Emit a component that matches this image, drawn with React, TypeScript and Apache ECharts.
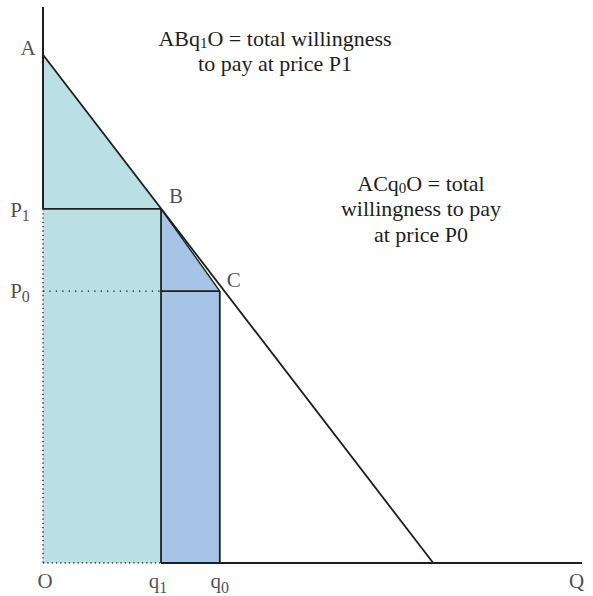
import React, { useEffect, useRef } from "react";
import * as echarts from "echarts";

// ---- data (axis units) ----
const X_MAX = 10;
const Y_MAX = 10;
const PRICE_A = 9.14; // choke price, point A
const PRICE_P1 = 6.37;
const PRICE_P0 = 4.89;
const QTY_Q1 = 2.19;
const QTY_Q0 = 3.28;
const DEMAND_X_INTERCEPT = 7.24;

const demandPoints = [
  [0, PRICE_A],
  [DEMAND_X_INTERCEPT, 0],
];
const tealEdge = [
  [0, PRICE_A],
  [QTY_Q1, PRICE_P1],
];
const blueEdge = [
  [QTY_Q1, PRICE_P1],
  [QTY_Q0, PRICE_P0],
];

const pointNames = ["A", "B", "C", "P1", "P0", "O", "q1", "q0", "Q"];
const pointValues = [
  [0, PRICE_A],
  [QTY_Q1, PRICE_P1],
  [QTY_Q0, PRICE_P0],
  [0, PRICE_P1],
  [0, PRICE_P0],
  [0, 0],
  [QTY_Q1, 0],
  [QTY_Q0, 0],
  [X_MAX, 0],
];
const pointTexts = [
  "{n|A}",
  "{n|B}",
  "{n|C}",
  "{n|P}{s|1}",
  "{n|P}{s|0}",
  "{n|O}",
  "{n|q}{d|1}",
  "{n|q}{d|0}",
  "{n|Q}",
];
// note lines: [text, "n" normal | "s" subscript]
const noteWTP1 = [
  [["ABq", "n"], ["1", "s"], ["O = total willingness", "n"]],
  [["to pay at price P1", "n"]],
];
const noteWTP0 = [
  [["ACq", "n"], ["0", "s"], ["O = total", "n"]],
  [["willingness to pay", "n"]],
  [["at price P0", "n"]],
];

// ---- styles ----
const FONT = "Liberation Serif";
const INK = "#1e1e1e";
const labelOffsets: Record<string, number[]> = {
  A: [-15, -7],
  B: [15, -13],
  C: [14, -11],
  P1: [-23, 1.5],
  P0: [-23, 0],
  O: [2, 18],
  q1: [-3, 18],
  q0: [0, 18],
  Q: [-5.5, 18],
};
const NOTE_SIZE = 22;
const NOTE_SUB_SIZE = 15;
const NOTE_SUB_DROP = 3;
const NOTE_LINE_GAP = 25.8;

export default function App() {
  const ref = useRef<HTMLDivElement>(null);
  useEffect(() => {
    document.body.style.margin = "0";
    if (!ref.current) return;
    const chart = echarts.init(ref.current, undefined, { renderer: "svg" });

    const ctx = document.createElement("canvas").getContext("2d")!;
    const measure = (t: string, size: number) => {
      ctx.font = `${size}px "${FONT}"`;
      return ctx.measureText(t).width;
    };
    const noteElements = (lines: string[][][], cx: number, firstBaseline: number) => {
      const els: any[] = [];
      lines.forEach((pieces, li) => {
        const baseline = firstBaseline + li * NOTE_LINE_GAP;
        const sizes = pieces.map((p) => (p[1] === "s" ? NOTE_SUB_SIZE : NOTE_SIZE));
        const widths = pieces.map((p, i) => measure(p[0], sizes[i]));
        const total = widths.reduce((a, b) => a + b, 0);
        let x = cx - total / 2;
        pieces.forEach((p, i) => {
          const size = sizes[i];
          const base = baseline + (p[1] === "s" ? NOTE_SUB_DROP : 0);
          els.push({
            type: "text",
            x,
            y: base - 0.3375 * size,
            silent: true,
            style: {
              text: p[0],
              fontFamily: FONT,
              fontSize: size,
              fill: INK,
              align: "left",
              verticalAlign: "middle",
            },
          });
          x += widths[i];
        });
      });
      return els;
    };

    const seg = (data: number[][], width: number, type: any = "solid") => ({
      type: "line",
      data,
      symbol: "none",
      silent: true,
      z: 3,
      lineStyle: { color: INK, width, type, cap: "butt" },
    });

    const pointRich = {
      n: { fontFamily: FONT, fontSize: 21, color: INK, lineHeight: 26 },
      s: { fontFamily: FONT, fontSize: 16, color: INK, padding: [11, 0, 0, 0] },
      d: { fontFamily: FONT, fontSize: 16, color: INK, padding: [13, 0, 0, 0] },
    };

    chart.setOption({
      animation: false,
      textStyle: { fontFamily: FONT },
      grid: { left: 43, right: 11, top: 7, bottom: 33 },
      xAxis: { type: "value", min: 0, max: X_MAX, show: false },
      yAxis: { type: "value", min: 0, max: Y_MAX, show: false },
      graphic: [...noteElements(noteWTP1, 275, 45.5), ...noteElements(noteWTP0, 421, 190.5)],
      series: [
        {
          type: "line",
          data: tealEdge,
          symbol: "none",
          silent: true,
          z: 1,
          lineStyle: { width: 0 },
          areaStyle: { color: "#bbe0e3", opacity: 1 },
        },
        {
          type: "line",
          data: blueEdge,
          symbol: "none",
          silent: true,
          z: 1,
          lineStyle: { width: 0 },
          areaStyle: { color: "#a5c4e6", opacity: 1 },
        },
        // axes drawn as segments
        seg([[0, Y_MAX], [0, PRICE_P1]], 2),
        seg([[0, PRICE_P1], [0, 0]], 1.3, [1.3, 3]),
        seg([[0, 0], [QTY_Q1, 0]], 1.3, [1.3, 3]),
        seg([[QTY_Q1, 0], [X_MAX, 0]], 1.8),
        // demand curve
        seg(demandPoints, 1.8),
        // blue area edge B-C
        seg(blueEdge, 1.4),
        // price and quantity guides
        seg([[0, PRICE_P1], [QTY_Q1, PRICE_P1]], 1.8),
        seg([[0, PRICE_P0], [QTY_Q1, PRICE_P0]], 1.4, [1.4, 5]),
        seg([[QTY_Q1, PRICE_P0], [QTY_Q0, PRICE_P0]], 1.8),
        seg([[QTY_Q1, PRICE_P1], [QTY_Q1, 0]], 1.8),
        seg([[QTY_Q0, PRICE_P0], [QTY_Q0, 0]], 1.8),
        {
          type: "scatter",
          symbolSize: 0,
          silent: true,
          z: 5,
          data: pointNames.map((name, i) => ({
            name,
            value: pointValues[i],
            label: {
              show: true,
              position: "inside",
              offset: labelOffsets[name],
              formatter: pointTexts[i],
              rich: pointRich,
            },
          })),
        },
      ],
    });
    return () => chart.dispose();
  }, []);
  return <div ref={ref} style={{ width: 593, height: 596 }} />;
}
